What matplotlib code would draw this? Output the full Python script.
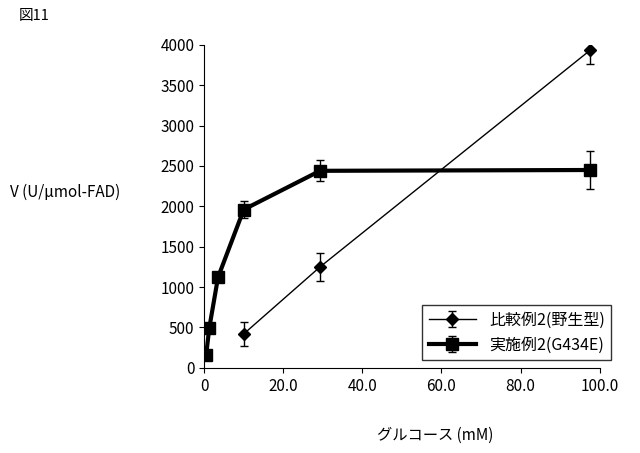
import matplotlib
matplotlib.use('Agg')
import matplotlib.pyplot as plt

plt.rcParams['font.family'] = 'Noto Sans CJK JP'

# 比較例2 (wild type)
wt_x = [10.0, 29.3, 97.5]
wt_y = [420, 1250, 3930]
wt_err = [150, 170, 170]

# 実施例2 (G434E)
mut_x = [0.5, 1.3, 3.5, 10.0, 29.3, 97.5]
mut_y = [160, 495, 1120, 1960, 2440, 2450]
mut_err = [0, 0, 0, 100, 130, 230]

x_ticks = [0, 20, 40, 60, 80, 100]
x_labels = ['0', '20.0', '40.0', '60.0', '80.0', '100.0']
y_ticks = list(range(0, 4001, 500))

fig = plt.figure(figsize=(6.4, 4.53), dpi=100)
ax = fig.add_axes([0.319, 0.188, 0.618, 0.713])

ax.errorbar(wt_x, wt_y, yerr=wt_err, color='black', lw=1, marker='D', ms=6,
            capsize=3, elinewidth=1, label='比較例2(野生型)')
ax.errorbar(mut_x, mut_y, yerr=mut_err, color='black', lw=3, marker='s', ms=9,
            capsize=3, elinewidth=1, label='実施例2(G434E)')

ax.set_xlim(0, 100)
ax.set_ylim(0, 4000)
ax.set_xticks(x_ticks)
ax.set_xticklabels(x_labels)
ax.set_yticks(y_ticks)
ax.tick_params(labelsize=11, direction='out')
for s in ['top', 'right']:
    ax.spines[s].set_visible(False)

ax.legend(loc='lower right', fontsize=11.5, frameon=True, fancybox=False,
          edgecolor='black', handlelength=3, bbox_to_anchor=(1.05, 0.0))

fig.text(0.03, 0.955, '図11', fontsize=10.5)
fig.text(0.015, 0.565, 'V (U/μmol-FAD)', fontsize=11)
fig.text(0.68, 0.03, 'グルコース (mM)', fontsize=11, ha='center')

fig.savefig('out.png', dpi=100)
